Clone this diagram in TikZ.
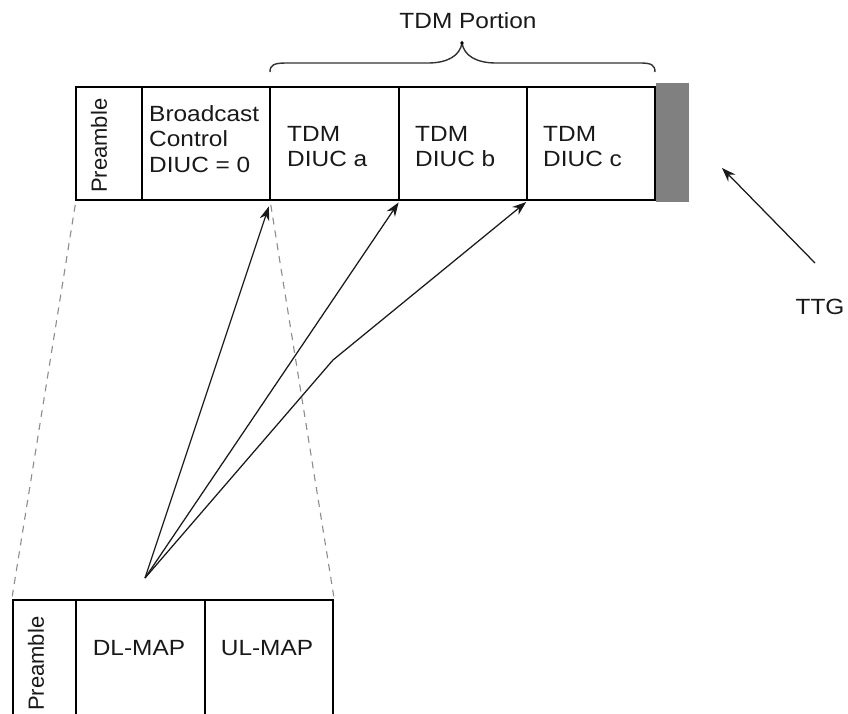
\documentclass[tikz,border=0pt]{standalone}
\usepackage{fontspec}
\setmainfont{Liberation Sans}
\usetikzlibrary{arrows.meta}
\begin{document}
\begin{tikzpicture}[x=1pt,y=-1pt,
  every node/.style={font=\fontsize{22}{25.5}\selectfont},
  cell/.style={draw=black, line width=1.5pt, minimum width=#1, inner sep=0pt},
  topcell/.style={cell=#1, minimum height=113pt},
  botcell/.style={cell=#1, minimum height=124pt},
  txt/.style={align=left, inner sep=0pt, text=black!90},
  wide/.style={xscale=1.11},
  arr/.style={draw=black!90, line width=1.25pt, -{Stealth[length=14pt,width=10pt]}},
  guide/.style={draw=black!45, line width=1.1pt, dash pattern=on 7pt off 6pt},
  bracepath/.style={draw=black!80, line width=1.4pt}]
\useasboundingbox (0,0) rectangle (848,713);
\fill[white] (0,0) rectangle (848,713);

% downlink subframe: preamble, broadcast control, TDM bursts
\node[topcell=66pt]  (pre)  at (109,143.5) {};
\node[topcell=128pt] (bc)   at (206,143.5) {};
\node[topcell=129pt] (tdma) at (334.5,143.5) {};
\node[topcell=128pt] (tdmb) at (463,143.5) {};
\node[topcell=128pt] (tdmc) at (591,143.5) {};
\node[fill=black!50, minimum width=33pt, minimum height=119pt, inner sep=0pt] (ttgbar) at (672.5,142.5) {};

\node[txt, rotate=90, anchor=west] (pretxt) at (99,193) {Preamble};
\node[txt, wide, anchor=north west] (bctxt) at (149,105) {Broadcast\\Control\\DIUC = 0};
\node[txt, wide, anchor=north west] (atxt) at (287,126) {TDM\\DIUC a};
\node[txt, wide, anchor=north west] (btxt) at (415,126) {TDM\\DIUC b};
\node[txt, wide, anchor=north west] (ctxt) at (543,126) {TDM\\DIUC c};

% brace over the TDM portion
\node[txt, wide] (tdmlabel) at (468,21) {TDM Portion};
\coordinate (brl) at (270,72);
\coordinate (brm) at (462,43);
\coordinate (brr) at (655,72);
\draw[bracepath] (brl) .. controls (270,65) and (274,63) .. (286,63)
  -- (428,63) .. controls (447,63) and (460,56) .. (brm)
  .. controls (464,56) and (477,63) .. (496,63)
  -- (641,63) .. controls (651,63) and (655,65) .. (brr);
\fill[black] (brm) circle (1.8pt);

% expanded broadcast control: preamble, DL-MAP, UL-MAP
\node[botcell=63pt]  (bpre) at (44.5,662) {};
\node[botcell=129pt] (dl)   at (140.5,662) {};
\node[botcell=128pt] (ul)   at (269,662) {};
\node[txt, rotate=90, anchor=west] (bpretxt) at (36,711) {Preamble};
\node[txt, wide] (dltxt) at (139,648) {DL-MAP};
\node[txt, wide] (ultxt) at (267,648) {UL-MAP};

% zoom guides
\draw[guide] ([yshift=-4pt]pre.south west) -- ([yshift=3pt]bpre.north west);
\draw[guide] ([yshift=-4pt]bc.south east) -- ([yshift=3pt]ul.north east);

% DL-MAP entries pointing at the bursts
\coordinate (src) at (145,578);
\coordinate (bend) at (333,360);
\draw[arr, shorten >=6pt] (src) -- (bc.south east);
\draw[arr, shorten >=2pt] (src) -- (tdma.south east);
\draw[arr, shorten >=2pt] (src) -- (bend) -- (tdmb.south east);

% transmit/receive transition gap
\node[txt, wide] (ttg) at (820,307) {TTG};
\coordinate (ttgtail) at (815,263);
\coordinate (ttgtip) at (722,168);
\draw[arr] (ttgtail) -- (ttgtip);
\end{tikzpicture}
\end{document}
